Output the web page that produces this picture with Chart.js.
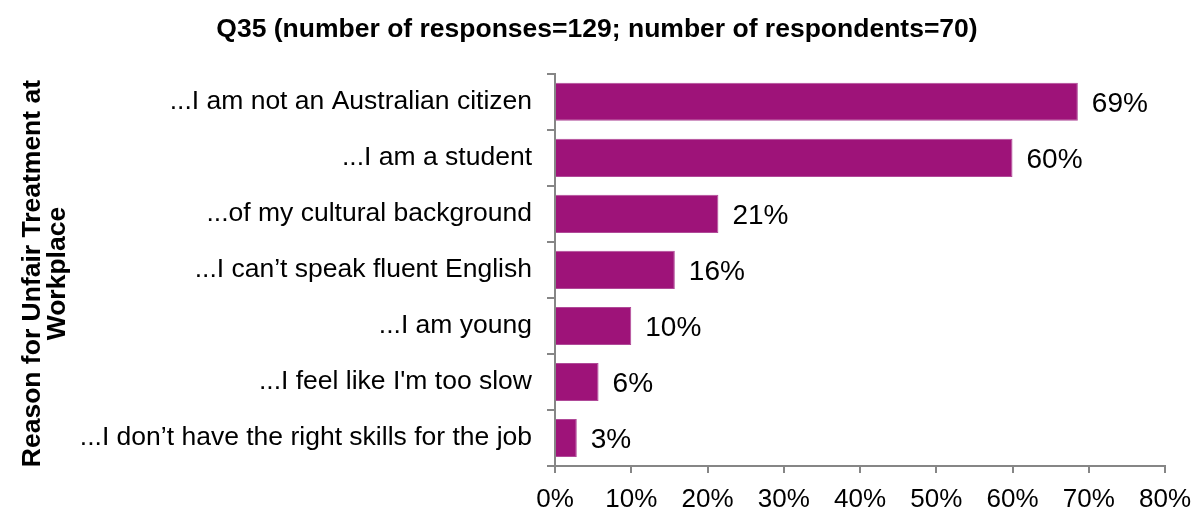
<!DOCTYPE html>
<html>
<head>
<meta charset="utf-8">
<script src="https://cdn.jsdelivr.net/npm/chart.js"></script>
<style>
  html, body { margin: 0; padding: 0; background: #fff; }
  canvas { display: block; }
</style>
</head>
<body>
<canvas id="reasonsChart" width="1194" height="507"></canvas>
<script>
// Q35 answers: how many of the 70 respondents picked each reason
const reasons = [
  '...I am not an Australian citizen',
  '...I am a student',
  '...of my cultural background',
  '...I can\u2019t speak fluent English',
  '...I am young',
  "...I feel like I'm too slow",
  '...I don\u2019t have the right skills for the job'
];
const counts = [48, 42, 15, 11, 7, 4, 2];
const respondents = 70;
const responses = 129;
const pctTicks = [0, 10, 20, 30, 40, 50, 60, 70, 80];

const shares = counts.map(c => c / respondents * 100);

const FONT = '"Liberation Sans", Arial, sans-serif';
const AXIS_GREY = '#868686';

// write "NN%" just past the end of each bar
const barLabels = {
  id: 'barLabels',
  afterDatasetsDraw(chart) {
    const ctx = chart.ctx;
    const meta = chart.getDatasetMeta(0);
    ctx.save();
    ctx.font = '28px ' + FONT;
    ctx.fillStyle = '#000';
    ctx.textAlign = 'left';
    ctx.textBaseline = 'middle';
    meta.data.forEach((bar, i) => {
      ctx.fillText(Math.round(shares[i]) + '%', bar.x + 14, bar.y + 2);
    });
    ctx.restore();
  }
};

const ctx = document.getElementById('reasonsChart').getContext('2d');
new Chart(ctx, {
  type: 'bar',
  data: {
    labels: reasons,
    datasets: [{
      data: shares,
      backgroundColor: '#9e1379',
      borderColor: '#b04a98',
      borderWidth: 1,
      barPercentage: 0.68,
      categoryPercentage: 1.0
    }]
  },
  options: {
    indexAxis: 'y',
    responsive: false,
    animation: false,
    layout: { padding: 0 },
    plugins: {
      legend: { display: false },
      tooltip: { enabled: false },
      title: {
        display: true,
        text: 'Q35 (number of responses=' + responses + '; number of respondents=' + respondents + ')',
        color: '#000',
        font: { family: FONT, size: 26.5, weight: 'bold' },
        padding: { top: 14, bottom: 28 }
      }
    },
    scales: {
      x: {
        min: 0,
        max: 80,
        afterBuildTicks(scale) {
          scale.ticks = pctTicks.map(v => ({ value: v }));
        },
        afterFit(scale) {
          scale.height = 41;
          scale.paddingRight = 29; // room for the "80%" label
        },
        border: { display: true, color: AXIS_GREY, width: 2 },
        grid: { drawOnChartArea: false, color: AXIS_GREY, lineWidth: 2, tickLength: 7 },
        ticks: {
          color: '#000',
          padding: 11,
          font: { family: FONT, size: 26 },
          callback: v => v + '%'
        }
      },
      y: {
        afterFit(scale) { scale.width = 555; },
        border: { display: true, color: AXIS_GREY, width: 2 },
        grid: { drawOnChartArea: false, color: AXIS_GREY, lineWidth: 2, tickLength: 8 },
        ticks: {
          color: '#000',
          padding: 15,
          font: { family: FONT, size: 26.5 }
        },
        title: {
          display: true,
          text: ['Reason for Unfair Treatment at ', 'Workplace '],
          color: '#000',
          font: { family: FONT, size: 26.5, weight: 'bold', lineHeight: 0.95 },
          padding: { top: 20, bottom: 0 }
        }
      }
    }
  },
  plugins: [barLabels]
});
</script>
</body>
</html>
